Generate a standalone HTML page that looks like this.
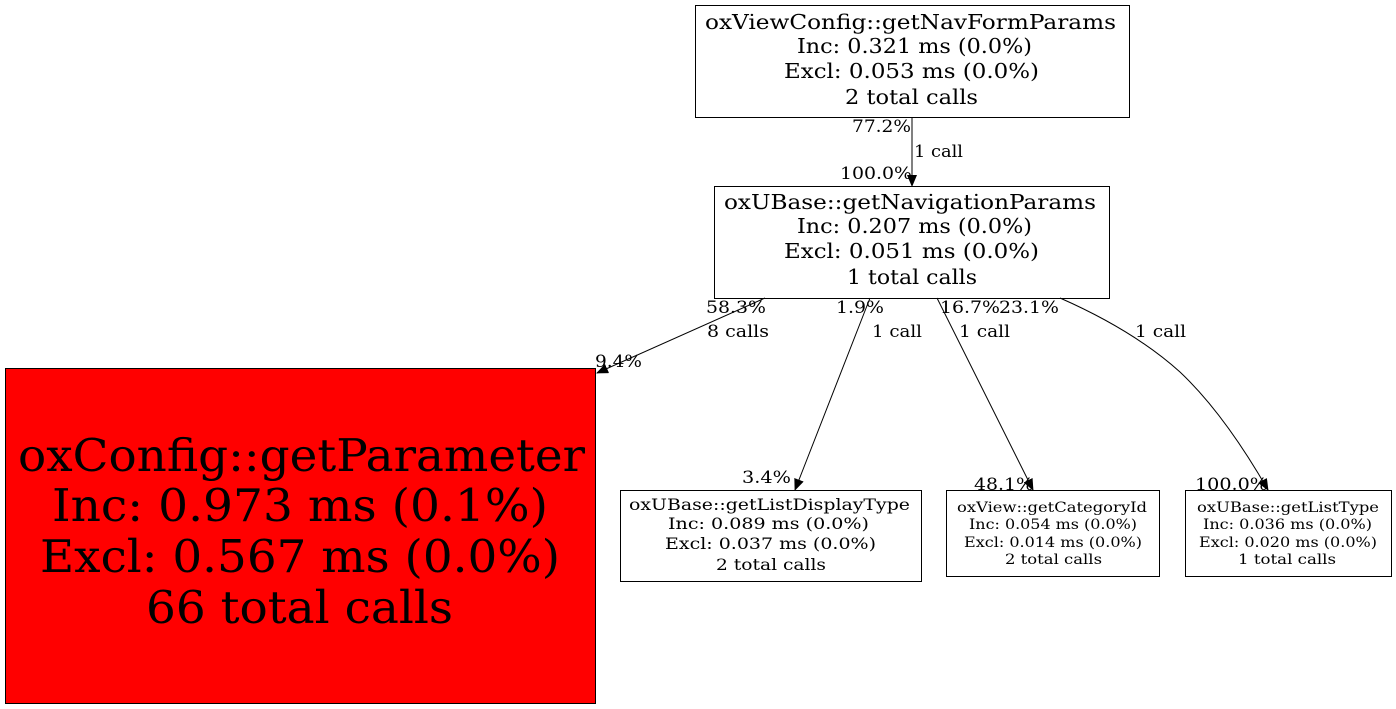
<!DOCTYPE html>
<html><head><meta charset="utf-8"><style>
html,body{margin:0;padding:0;background:#fff;}
svg{display:block;}
text{font-family:"DejaVu Serif","Liberation Serif",serif;fill:#000;}
</style></head><body>
<svg width="1396" height="709" viewBox="0 0 1396 709" xmlns="http://www.w3.org/2000/svg">
<defs><marker id="a" markerWidth="12" markerHeight="10" refX="11" refY="5" orient="auto" markerUnits="userSpaceOnUse"><path d="M0,0 L12,5 L0,10 z" fill="#000"/></marker></defs>
<g fill="none" stroke="#000" stroke-width="1">
<rect x="695.5" y="5.5" width="434" height="112"/>
<rect x="714.5" y="186.5" width="395" height="112"/>
<rect x="5.5" y="368.5" width="590" height="335" fill="#ff0000"/>
<rect x="620.5" y="490.5" width="301" height="91"/>
<rect x="946.5" y="490.5" width="213" height="86"/>
<rect x="1185.5" y="490.5" width="206" height="86"/>
<path d="M912,117 L912,186" marker-end="url(#a)"/>
<path d="M765,298 L597,373" marker-end="url(#a)"/>
<path d="M870,298 L795,490" marker-end="url(#a)"/>
<path d="M937,298 L1033,490" marker-end="url(#a)"/>
<path d="M1060,298 C1110,320 1150,345 1180,372 C1215,405 1245,450 1268,490" marker-end="url(#a)"/>
</g>
<g font-size="20.5">
<text x="705" y="29" textLength="411" lengthAdjust="spacingAndGlyphs">oxViewConfig::getNavFormParams</text>
<text x="797" y="53" textLength="235" lengthAdjust="spacingAndGlyphs">Inc: 0.321 ms (0.0%)</text>
<text x="784" y="78" textLength="255" lengthAdjust="spacingAndGlyphs">Excl: 0.053 ms (0.0%)</text>
<text x="845" y="104" textLength="133" lengthAdjust="spacingAndGlyphs">2 total calls</text>
<text x="724" y="209" textLength="372" lengthAdjust="spacingAndGlyphs">oxUBase::getNavigationParams</text>
<text x="797" y="233" textLength="235" lengthAdjust="spacingAndGlyphs">Inc: 0.207 ms (0.0%)</text>
<text x="784" y="258" textLength="255" lengthAdjust="spacingAndGlyphs">Excl: 0.051 ms (0.0%)</text>
<text x="847" y="284" textLength="130" lengthAdjust="spacingAndGlyphs">1 total calls</text>
</g>
<g font-size="45">
<text x="18" y="471" textLength="567" lengthAdjust="spacingAndGlyphs">oxConfig::getParameter</text>
<text x="52" y="521" textLength="496" lengthAdjust="spacingAndGlyphs">Inc: 0.973 ms (0.1%)</text>
<text x="40" y="572" textLength="520" lengthAdjust="spacingAndGlyphs">Excl: 0.567 ms (0.0%)</text>
<text x="146" y="623" textLength="307" lengthAdjust="spacingAndGlyphs">66 total calls</text>
</g>
<g font-size="15.5">
<text x="629" y="510" textLength="281" lengthAdjust="spacingAndGlyphs">oxUBase::getListDisplayType</text>
<text x="668" y="529" textLength="201" lengthAdjust="spacingAndGlyphs">Inc: 0.089 ms (0.0%)</text>
<text x="665" y="549" textLength="211" lengthAdjust="spacingAndGlyphs">Excl: 0.037 ms (0.0%)</text>
<text x="716" y="570" textLength="110" lengthAdjust="spacingAndGlyphs">2 total calls</text>
</g>
<g font-size="14">
<text x="957" y="512" textLength="190" lengthAdjust="spacingAndGlyphs">oxView::getCategoryId</text>
<text x="969" y="529" textLength="168" lengthAdjust="spacingAndGlyphs">Inc: 0.054 ms (0.0%)</text>
<text x="964" y="547" textLength="178" lengthAdjust="spacingAndGlyphs">Excl: 0.014 ms (0.0%)</text>
<text x="1005" y="564" textLength="97" lengthAdjust="spacingAndGlyphs">2 total calls</text>
<text x="1197" y="512" textLength="182" lengthAdjust="spacingAndGlyphs">oxUBase::getListType</text>
<text x="1203" y="529" textLength="169" lengthAdjust="spacingAndGlyphs">Inc: 0.036 ms (0.0%)</text>
<text x="1199" y="547" textLength="178" lengthAdjust="spacingAndGlyphs">Excl: 0.020 ms (0.0%)</text>
<text x="1238" y="564" textLength="98" lengthAdjust="spacingAndGlyphs">1 total calls</text>
</g>
<g font-size="16.5">
<text x="852" y="132" textLength="59" lengthAdjust="spacingAndGlyphs">77.2%</text>
<text x="914" y="157" textLength="49" lengthAdjust="spacingAndGlyphs">1 call</text>
<text x="840" y="179" textLength="72" lengthAdjust="spacingAndGlyphs">100.0%</text>
<text x="706" y="313" textLength="60" lengthAdjust="spacingAndGlyphs">58.3%</text>
<text x="707" y="337" textLength="62" lengthAdjust="spacingAndGlyphs">8 calls</text>
<text x="595" y="367" textLength="47" lengthAdjust="spacingAndGlyphs">9.4%</text>
<text x="836" y="313" textLength="48" lengthAdjust="spacingAndGlyphs">1.9%</text>
<text x="872" y="337" textLength="50" lengthAdjust="spacingAndGlyphs">1 call</text>
<text x="742" y="483" textLength="49" lengthAdjust="spacingAndGlyphs">3.4%</text>
<text x="940" y="313" textLength="60" lengthAdjust="spacingAndGlyphs">16.7%</text>
<text x="999" y="313" textLength="60" lengthAdjust="spacingAndGlyphs">23.1%</text>
<text x="959" y="337" textLength="51" lengthAdjust="spacingAndGlyphs">1 call</text>
<text x="974" y="490" textLength="60" lengthAdjust="spacingAndGlyphs">48.1%</text>
<text x="1135" y="337" textLength="51" lengthAdjust="spacingAndGlyphs">1 call</text>
<text x="1195" y="490" textLength="73" lengthAdjust="spacingAndGlyphs">100.0%</text>
</g>
</svg>
</body></html>
